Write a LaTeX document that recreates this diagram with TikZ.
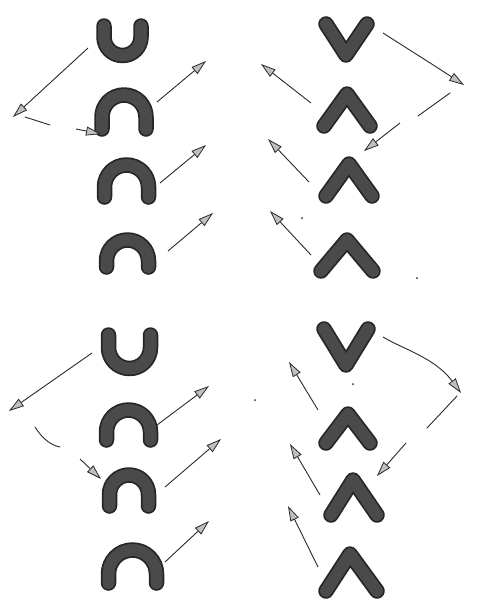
\documentclass[tikz,border=0pt]{standalone}
\usetikzlibrary{arrows.meta}
\definecolor{inkdark}{HTML}{262626}
\definecolor{inkmid}{HTML}{4A4A4A}
\definecolor{pen}{HTML}{2A2A2A}
\tikzset{
  glyphout/.style={line width=15.5pt, line cap=round, line join=round, draw=inkdark},
  glyphin/.style={line width=12pt, line cap=round, line join=round, draw=inkmid},
  arr/.style={line width=0.9pt, draw=pen, -{Triangle[length=15pt,width=9pt,fill=gray!50,color=pen,line width=0.8pt]}},
  seg/.style={line width=0.9pt, draw=pen, line cap=round},
  dotmark/.style={fill=pen, inner sep=0pt, minimum size=2pt, circle}
}
\newcommand{\glyphpath}[1]{\draw[glyphout] #1; \draw[glyphin] #1;}
\begin{document}
\begin{tikzpicture}[x=1pt,y=-1pt]
\useasboundingbox (0,0) rectangle (477,606);
% ---------- left column top group ----------
\glyphpath{(104,26) -- (104,37) arc[start angle=180,end angle=0,radius=18.5] -- (141,26)}
\glyphpath{(102,129) -- (102,117) arc[start angle=180,end angle=360,radius=22] -- (146,129)}
\glyphpath{(104.5,197) -- (104.5,187) arc[start angle=180,end angle=360,radius=22] -- (148.5,197)}
\glyphpath{(106.5,267) -- (106.5,261) arc[start angle=180,end angle=360,radius=21] -- (148.5,267)}
% ---------- right column top group ----------
\glyphpath{(326,24) -- (346,55) -- (367,24)}
\glyphpath{(324,126) -- (347,94) -- (370,126)}
\glyphpath{(326,196) -- (349,164) -- (372,196)}
\glyphpath{(321,271) -- (347,240) -- (373,271)}
% ---------- left column bottom group ----------
\glyphpath{(108.5,335) -- (108.5,347.5) arc[start angle=180,end angle=0,radius=21] -- (150.5,335)}
\glyphpath{(106.5,440) -- (106.5,432) arc[start angle=180,end angle=360,radius=22] -- (150.5,440)}
\glyphpath{(109.5,506) -- (109.5,494.5) arc[start angle=180,end angle=360,radius=19.5] -- (148.5,506)}
\glyphpath{(108.5,583) -- (108.5,574) arc[start angle=180,end angle=360,radius=24] -- (156.5,583)}
% ---------- right column bottom group ----------
\glyphpath{(324,329) -- (346,365) -- (368,329)}
\glyphpath{(326,443) -- (348,414) -- (370,443)}
\glyphpath{(331,515) -- (353,480) -- (377,515)}
\glyphpath{(326,591) -- (350,554) -- (377,591)}

% ---------- arrow end points ----------
\coordinate (a1s) at (88,48);   \coordinate (a1e) at (13,117);
\coordinate (b1s) at (25,117);  \coordinate (b1e) at (50,125);
\coordinate (c1s) at (76,129);  \coordinate (c1e) at (101,134);
\coordinate (d1s) at (157,102); \coordinate (d1e) at (206,61);
\coordinate (e1s) at (160,183); \coordinate (e1e) at (206,145);
\coordinate (f1s) at (168,251); \coordinate (f1e) at (213,213);

\coordinate (g1s) at (383,33);  \coordinate (g1e) at (464,85);
\coordinate (h1s) at (418,116); \coordinate (h1e) at (450,93);
\coordinate (i1s) at (400,123); \coordinate (i1e) at (364,151);
\coordinate (j1s) at (311,103); \coordinate (j1e) at (261,64);
\coordinate (k1s) at (309,182); \coordinate (k1e) at (268,139);
\coordinate (l1s) at (311,255); \coordinate (l1e) at (270,211);

\coordinate (a2s) at (92,353);  \coordinate (a2e) at (9,411);
\coordinate (b2s) at (35,427);  \coordinate (b2e) at (60,447);
\coordinate (c2s) at (80,459);  \coordinate (c2e) at (101,479);
\coordinate (d2s) at (157,425); \coordinate (d2e) at (209,386);
\coordinate (e2s) at (165,487); \coordinate (e2e) at (221,439);
\coordinate (f2s) at (165,562); \coordinate (f2e) at (209,521);

\coordinate (g2s) at (383,337); \coordinate (g2e) at (461,393);
\coordinate (h2s) at (427,428); \coordinate (h2e) at (457,396);
\coordinate (i2s) at (406,443); \coordinate (i2e) at (377,476);
\coordinate (j2s) at (318,410); \coordinate (j2e) at (289,362);
\coordinate (k2s) at (320,495); \coordinate (k2e) at (290,444);
\coordinate (l2s) at (318,567); \coordinate (l2e) at (288,506);

% ---------- arrows top ----------
\draw[arr] (a1s) -- (a1e);
\draw[seg] (b1s) -- (b1e);
\draw[arr] (c1s) -- (c1e);
\draw[arr] (d1s) -- (d1e);
\draw[arr] (e1s) -- (e1e);
\draw[arr] (f1s) -- (f1e);
\draw[arr] (g1s) .. controls (405,47) and (435,66) .. (g1e);
\draw[seg] (h1s) -- (h1e);
\draw[arr] (i1s) -- (i1e);
\draw[arr] (j1s) -- (j1e);
\draw[arr] (k1s) -- (k1e);
\draw[arr] (l1s) -- (l1e);
% ---------- arrows bottom ----------
\draw[arr] (a2s) -- (a2e);
\draw[seg] (b2s) .. controls (42,438) and (50,445) .. (b2e);
\draw[arr] (c2s) -- (c2e);
\draw[arr] (d2s) -- (d2e);
\draw[arr] (e2s) -- (e2e);
\draw[arr] (f2s) -- (f2e);
\draw[arr] (g2s) .. controls (405,350) and (435,358) .. (g2e);
\draw[seg] (h2s) -- (h2e);
\draw[arr] (i2s) -- (i2e);
\draw[arr] (j2s) -- (j2e);
\draw[arr] (k2s) -- (k2e);
\draw[arr] (l2s) -- (l2e);
% ---------- stray dots ----------
\node[dotmark] (p1) at (302,218) {};
\node[dotmark] (p2) at (417,278) {};
\node[dotmark] (p3) at (255,400) {};
\node[dotmark] (p4) at (353,384) {};
\end{tikzpicture}
\end{document}
